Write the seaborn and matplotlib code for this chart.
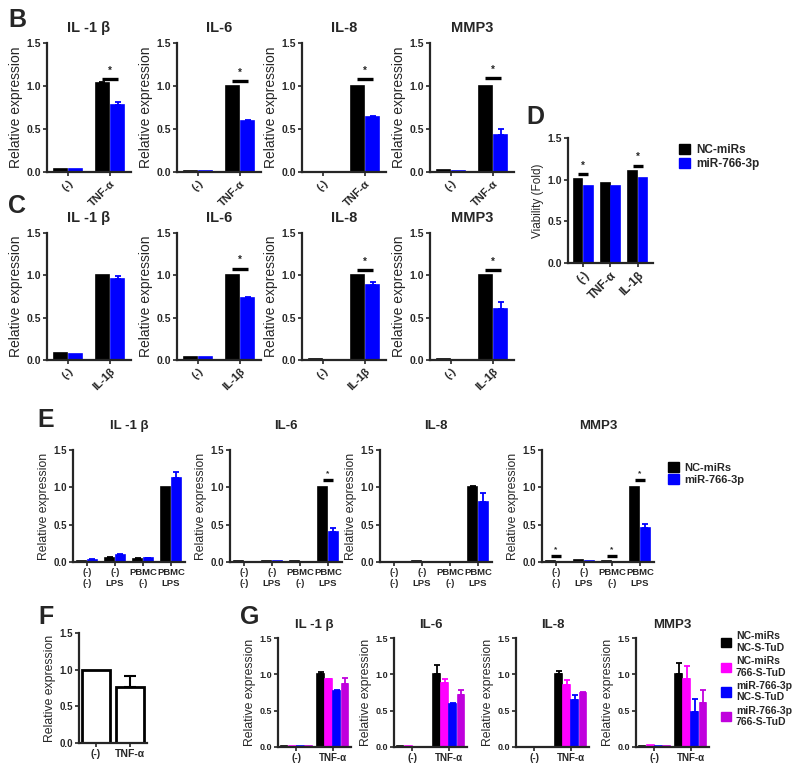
import numpy as np
import pandas as pd
import matplotlib
matplotlib.use("Agg")
import matplotlib.pyplot as plt
import seaborn as sns
from matplotlib.patches import Patch
from matplotlib.container import BarContainer

sns.set_theme(style="ticks")
plt.rcParams['font.family'] = ['Liberation Sans', 'DejaVu Sans']

W, H = 792, 771

BLACK = "#000000"
BLUE = "#0000FF"
MAGENTA = "#FF00FF"
PURPLE = "#C000DD"

genes = ["IL -1 β", "IL-6", "IL-8", "MMP3"]
two_groups = ["NC-miRs", "miR-766-3p"]

# ---- panel B (TNF-a) ----
b_conds = ["(-)", "TNF-α"]
b_nc = [[0.03, 1.03], [0.01, 1.00], [0.00, 1.00], [0.02, 1.00]]
b_nc_err = [[0, 0.02], [0, 0], [0, 0], [0, 0]]
b_mir = [[0.03, 0.78], [0.01, 0.59], [0.00, 0.64], [0.01, 0.43]]
b_mir_err = [[0, 0.03], [0, 0.02], [0, 0.01], [0, 0.07]]
b_sig = [[(1, 1.08)], [(1, 1.06)], [(1, 1.08)], [(1, 1.09)]]

# ---- panel C (IL-1b) ----
c_conds = ["(-)", "IL-1β"]
c_nc = [[0.08, 1.00], [0.04, 1.00], [0.01, 1.00], [0.01, 1.00]]
c_nc_err = [[0, 0], [0, 0], [0, 0], [0, 0]]
c_mir = [[0.07, 0.96], [0.03, 0.73], [0.00, 0.89], [0.00, 0.60]]
c_mir_err = [[0, 0.03], [0, 0.01], [0, 0.03], [0, 0.09]]
c_sig = [[], [(1, 1.08)], [(1, 1.06)], [(1, 1.06)]]

# ---- panel D (viability) ----
d_conds = ["(-)", "TNF-α", "IL-1β"]
d_nc = [1.01, 0.96, 1.10]
d_mir = [0.92, 0.92, 1.02]
d_sig = [(0, 1.07), (2, 1.17)]

# ---- panel E (PBMC co-culture) ----
e_conds = ["(-)\n(-)", "(-)\nLPS", "PBMC\n(-)", "PBMC\nLPS"]
e_nc = [[0.02, 0.06, 0.04, 1.00], [0.01, 0.01, 0.01, 1.00],
        [0.00, 0.01, 0.00, 1.01], [0.02, 0.03, 0.02, 1.00]]
e_nc_err = [[0, 0.01, 0.01, 0], [0, 0, 0, 0], [0, 0, 0, 0.01], [0, 0, 0, 0]]
e_mir = [[0.03, 0.09, 0.05, 1.12], [0.00, 0.01, 0.00, 0.40],
         [0.00, 0.00, 0.00, 0.80], [0.00, 0.01, 0.00, 0.46]]
e_mir_err = [[0.01, 0.02, 0.01, 0.08], [0, 0, 0, 0.06], [0, 0, 0, 0.12], [0, 0, 0, 0.05]]
e_sig = [[], [(3, 1.10)], [], [(0, 0.08), (2, 0.08), (3, 1.10)]]

# ---- panel F ----
f_conds = ["(-)", "TNF-α"]
f_vals = [1.00, 0.76]
f_err = [0, 0.15]

# ---- panel G (sponge rescue) ----
g_conds = ["(-)", "TNF-α"]
g_groups = ["NC-miRs\nNC-S-TuD", "NC-miRs\n766-S-TuD", "miR-766-3p\nNC-S-TuD", "miR-766-3p\n766-S-TuD"]
g_vals = [
    [[0.02, 1.00], [0.02, 0.93], [0.02, 0.77], [0.02, 0.87]],
    [[0.01, 1.01], [0.01, 0.88], [0.00, 0.59], [0.00, 0.72]],
    [[0.00, 1.00], [0.00, 0.85], [0.00, 0.64], [0.00, 0.75]],
    [[0.02, 1.01], [0.03, 0.94], [0.01, 0.48], [0.01, 0.61]],
]
g_errs = [
    [[0, 0.03], [0, 0.01], [0, 0.01], [0, 0.08]],
    [[0, 0.12], [0, 0.06], [0, 0.01], [0, 0.06]],
    [[0, 0.05], [0, 0.07], [0, 0.07], [0, 0.01]],
    [[0, 0.14], [0, 0.18], [0, 0.18], [0, 0.17]],
]


def px_axes(fig, x0, y0, x1, y1):
    return fig.add_axes([x0 / W, 1 - y1 / H, (x1 - x0) / W, (y1 - y0) / H])


def bars_of(ax):
    return [c for c in ax.containers if isinstance(c, BarContainer)]


def bar_panel(ax, conds, values, errors, names, colors, width, gap):
    rows = []
    for name, vals in zip(names, values):
        for c, v in zip(conds, vals):
            rows.append({"cond": c, "grp": name, "val": v})
    df = pd.DataFrame(rows)
    sns.barplot(data=df, x="cond", y="val", hue="grp", order=conds, hue_order=names,
                palette=colors, width=width, gap=gap, errorbar=None, legend=False,
                saturation=1, linewidth=0, ax=ax)
    for cont, errs, col in zip(bars_of(ax), errors, colors):
        xs, ys, es = [], [], []
        for p, e in zip(cont.patches, errs):
            # outline in the same colour so near-zero bars still show
            p.set_edgecolor(col)
            p.set_linewidth(1.2)
            if e > 0:
                xs.append(p.get_x() + p.get_width() / 2)
                ys.append(p.get_height())
                es.append(e)
        if xs:
            ax.errorbar(xs, ys, yerr=[np.zeros(len(es)), es], fmt="none", ecolor=col,
                        elinewidth=1.3, capsize=2.5, capthick=1.3)


def add_sig(ax, gi, y, star=7):
    conts = bars_of(ax)
    a = conts[0].patches[gi]
    b = conts[-1].patches[gi]
    xa = a.get_x() + a.get_width() / 2
    xb = b.get_x() + b.get_width() / 2
    ax.plot([xa, xb], [y, y], color="black", lw=2.4, solid_capstyle="butt", clip_on=False)
    ax.text((xa + xb) / 2, y + 0.04, "*", ha="center", va="bottom",
            fontsize=star, fontweight="bold")


def style(ax, tick_fs, xlim, xtick_fs=None):
    sns.despine(ax=ax)
    for s in ("left", "bottom"):
        ax.spines[s].set_linewidth(1.6)
    ax.set_ylim(0, 1.5)
    ax.set_xlim(*xlim)
    ax.set_yticks([0, 0.5, 1.0, 1.5])
    ax.set_yticklabels(["0.0", "0.5", "1.0", "1.5"])
    ax.tick_params(width=1.2, length=3, labelsize=tick_fs, pad=1.5)
    if xtick_fs:
        ax.tick_params(axis="x", labelsize=xtick_fs)
    for t in ax.get_yticklabels() + ax.get_xticklabels():
        t.set_fontweight("bold")
    ax.set_xlabel("")


fig = plt.figure(figsize=(W / 100, H / 100), dpi=100)
fig.patch.set_facecolor("white")

# ---- rows B and C ----
bc_x = [47, 177, 302, 430]
for row, (conds, nc, nce, mir, mire, sig, top, bot) in enumerate([
        (b_conds, b_nc, b_nc_err, b_mir, b_mir_err, b_sig, 43, 172),
        (c_conds, c_nc, c_nc_err, c_mir, c_mir_err, c_sig, 233, 360)]):
    for i, g in enumerate(genes):
        ax = px_axes(fig, bc_x[i], top, bc_x[i] + 84, bot)
        bar_panel(ax, conds, [nc[i], mir[i]], [nce[i], mire[i]], two_groups,
                  [BLACK, BLUE], 0.72, 0.1)
        for gi, y in sig[i]:
            add_sig(ax, gi, y)
        style(ax, 7.5, (-0.5, 1.5), xtick_fs=8)
        ax.set_ylabel("Relative expression", fontsize=10, labelpad=2)
        ax.set_title(g, fontsize=10.5, fontweight="bold", pad=8)
        plt.setp(ax.get_xticklabels(), rotation=45, ha="right", rotation_mode="anchor")

# ---- D ----
ax = px_axes(fig, 568, 138, 653, 263)
bar_panel(ax, d_conds, [d_nc, d_mir], [[0, 0, 0], [0, 0, 0]], two_groups,
          [BLACK, BLUE], 0.74, 0.12)
for gi, y in d_sig:
    add_sig(ax, gi, y)
style(ax, 7.5, (-0.55, 2.55), xtick_fs=8.5)
ax.set_ylabel("Viability (Fold)", fontsize=8.5, labelpad=2)
plt.setp(ax.get_xticklabels(), rotation=45, ha="right", rotation_mode="anchor")
fig.legend(handles=[Patch(color=BLACK), Patch(color=BLUE)], labels=two_groups,
           loc="upper left", bbox_to_anchor=(668 / W, 1 - 133 / H), frameon=False,
           handlelength=1.0, handleheight=1.0, handletextpad=0.5, labelspacing=0.15,
           prop={"size": 8.5, "weight": "bold"})

# ---- E ----
e_x = [73, 230, 380, 542]
for i, g in enumerate(genes):
    ax = px_axes(fig, e_x[i], 450, e_x[i] + 112, 562)
    bar_panel(ax, e_conds, [e_nc[i], e_mir[i]], [e_nc_err[i], e_mir_err[i]], two_groups,
              [BLACK, BLUE], 0.75, 0.14)
    for gi, y in e_sig[i]:
        add_sig(ax, gi, y, star=6)
    style(ax, 7, (-0.5, 3.5), xtick_fs=6.8)
    ax.set_ylabel("Relative expression", fontsize=8.8, labelpad=2)
    ax.set_title(g, fontsize=9.5, fontweight="bold", pad=15)
fig.legend(handles=[Patch(color=BLACK), Patch(color=BLUE)], labels=two_groups,
           loc="upper left", bbox_to_anchor=(658 / W, 1 - 452 / H), frameon=False,
           handlelength=1.0, handleheight=1.0, handletextpad=0.5, labelspacing=0.1,
           prop={"size": 8, "weight": "bold"})

# ---- F ----
ax = px_axes(fig, 79, 633, 147, 743)
sns.barplot(x=f_conds, y=f_vals, color="white", edgecolor="black", linewidth=2,
            width=0.8, errorbar=None, saturation=1, ax=ax)
pf = bars_of(ax)[0].patches
ax.errorbar([p.get_x() + p.get_width() / 2 for p in pf][1:], f_vals[1:],
            yerr=[[0], f_err[1:]], fmt="none", ecolor="black", elinewidth=1.5,
            capsize=4, capthick=1.5)
style(ax, 7, (-0.5, 1.5), xtick_fs=7.5)
ax.set_ylabel("Relative expression", fontsize=8.8, labelpad=2)

# ---- G ----
g_x = [278, 394, 516, 636]
g_cols = [BLACK, MAGENTA, BLUE, PURPLE]
for i, g in enumerate(genes):
    ax = px_axes(fig, g_x[i], 638, g_x[i] + 73, 747)
    bar_panel(ax, g_conds, g_vals[i], g_errs[i], g_groups, g_cols, 0.88, 0.18)
    style(ax, 6.5, (-0.5, 1.5), xtick_fs=7)
    ax.set_ylabel("Relative expression", fontsize=8.8, labelpad=2)
    ax.set_title(g, fontsize=9.5, fontweight="bold", pad=7)
fig.legend(handles=[Patch(color=c) for c in g_cols], labels=g_groups,
           loc="upper left", bbox_to_anchor=(712 / W, 1 - 622 / H), frameon=False,
           handlelength=0.9, handleheight=1.0, handletextpad=0.5, labelspacing=0.3,
           prop={"size": 7.5, "weight": "bold"})

# ---- panel letters ----
for letter, x, y in [("B", 8, 20), ("C", 8, 206), ("D", 526, 117),
                     ("E", 37, 420), ("F", 38, 617), ("G", 240, 617)]:
    fig.text(x / W, 1 - y / H, letter, fontsize=18, fontweight="bold", va="center", ha="left")

fig.savefig("out.png", dpi=100, facecolor="white")
